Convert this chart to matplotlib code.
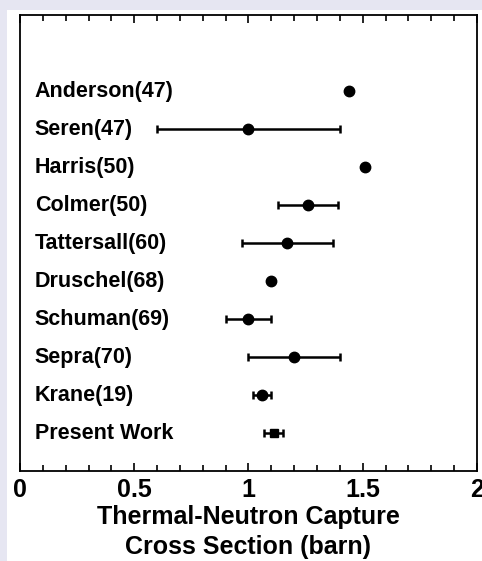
import matplotlib.pyplot as plt
from matplotlib.patches import Rectangle
from matplotlib.ticker import MultipleLocator

labels = ['Anderson(47)', 'Seren(47)', 'Harris(50)', 'Colmer(50)', 'Tattersall(60)',
          'Druschel(68)', 'Schuman(69)', 'Sepra(70)', 'Krane(19)', 'Present Work']
values = [1.44, 1.00, 1.51, 1.26, 1.17, 1.10, 1.00, 1.20, 1.06, 1.11]
err_lo = [None, 0.60, None, 1.13, 0.97, None, 0.90, 1.00, 1.02, 1.07]
err_hi = [None, 1.40, None, 1.39, 1.37, None, 1.10, 1.40, 1.10, 1.15]

plt.rcParams['font.family'] = ['Liberation Sans', 'DejaVu Sans']
plt.rcParams['font.weight'] = 'bold'

W, H = 482, 561
fig = plt.figure(figsize=(W / 100, H / 100), dpi=100, facecolor='#e6e6f2')
fig.patches.append(Rectangle((7 / W, 0), 1 - 7 / W, 1 - 10 / H,
                             transform=fig.transFigure, facecolor='white',
                             edgecolor='none', zorder=-10))

ax = fig.add_axes([20 / W, 1 - 471 / H, (477 - 20) / W, (471 - 15) / H])
ax.set_xlim(0, 2)
ax.set_ylim(10, -2)

for i, (lab, v, lo, hi) in enumerate(zip(labels, values, err_lo, err_hi)):
    ax.text(0.065, i, lab, fontsize=15.5, fontweight='bold', va='center', ha='left')
    marker = 's' if lab == 'Present Work' else 'o'
    if lo is not None:
        ax.errorbar([v], [i], xerr=[[v - lo], [hi - v]], fmt=marker, color='black',
                    ms=7.5 if marker == 'o' else 5.5, elinewidth=1.8, capsize=3, capthick=1.8)
    else:
        ax.plot([v], [i], marker, color='black', ms=7.5)

ax.xaxis.set_major_locator(MultipleLocator(0.5))
ax.xaxis.set_minor_locator(MultipleLocator(0.1))
ax.set_xticks([0, 0.5, 1, 1.5, 2])
ax.set_xticklabels(['0', '0.5', '1', '1.5', '2'])
ax.set_yticks([])
ax.tick_params(axis='x', which='both', direction='in', top=True, labelsize=18, pad=5,
               width=1.2)
ax.tick_params(axis='x', which='major', length=6)
ax.tick_params(axis='x', which='minor', length=4)
for s in ax.spines.values():
    s.set_linewidth(1.3)

ax.set_xlabel('Thermal-Neutron Capture\nCross Section (barn)', fontsize=18,
              fontweight='bold', labelpad=2, linespacing=1.35)

fig.savefig('out.png', dpi=100, facecolor=fig.get_facecolor())
